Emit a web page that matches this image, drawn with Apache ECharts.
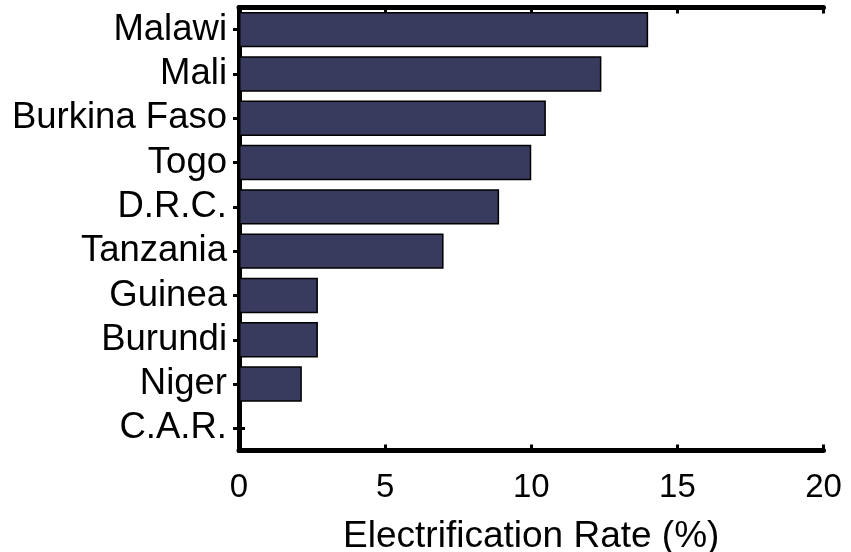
<html>
    <head>
        <meta charset="utf-8">
        <script src="https://cdn.jsdelivr.net/npm/echarts@6/dist/echarts.min.js" type="text/javascript" charset="utf-8"></script>
    </head>
    <body style="margin:0;background:#fff">
        <style>
            .chart {
                height: 552px;
                width: 851px;
            }
        </style>

        <div id="main" class="chart"></div>
        <script>
            // data
            var countries = ['Malawi', 'Mali', 'Burkina Faso', 'Togo', 'D.R.C.', 'Tanzania', 'Guinea', 'Burundi', 'Niger', 'C.A.R.'];
            var rates = [14.0, 12.4, 10.5, 10.0, 8.9, 7.0, 2.7, 2.7, 2.15, 0];
            var xTicks = [0, 5, 10, 15, 20];

            var font = "'Liberation Sans', Arial, sans-serif";
            var frameLine = { show: true, lineStyle: { color: '#000', width: 5 } };
            var innerTick = { show: true, inside: true, length: 6, lineStyle: { color: '#000', width: 3 } };

            var chart = echarts.init(document.getElementById('main'));

            chart.setOption({
                animation: false,
                grid: { left: 239, right: 27.5, top: 7.5, bottom: 101.5, outerBoundsMode: 'none', containLabel: false },
                xAxis: [
                    {
                        type: 'value',
                        min: xTicks[0],
                        max: xTicks[xTicks.length - 1],
                        interval: 5,
                        position: 'bottom',
                        name: 'Electrification Rate (%)',
                        nameLocation: 'middle',
                        nameGap: 68,
                        nameTextStyle: { color: '#000', fontSize: 37, fontFamily: font },
                        axisLine: frameLine,
                        axisTick: innerTick,
                        splitLine: { show: false },
                        axisLabel: { color: '#000', fontSize: 33, fontFamily: font, margin: 21 }
                    },
                    {
                        type: 'value',
                        min: xTicks[0],
                        max: xTicks[xTicks.length - 1],
                        interval: 5,
                        position: 'top',
                        axisLine: frameLine,
                        axisTick: innerTick,
                        splitLine: { show: false },
                        axisLabel: { show: false }
                    }
                ],
                yAxis: [
                    {
                        type: 'category',
                        data: countries,
                        inverse: true,
                        position: 'left',
                        axisLine: frameLine,
                        axisTick: Object.assign({ alignWithLabel: true }, innerTick),
                        axisLabel: { color: '#000', fontSize: 36.5, fontFamily: font, margin: 12, interval: 0 }
                    },
                    {
                        type: 'category',
                        data: countries,
                        inverse: true,
                        position: 'right',
                        axisLine: frameLine,
                        axisTick: Object.assign({ alignWithLabel: true }, innerTick),
                        axisLabel: { show: false }
                    }
                ],
                series: [
                    {
                        type: 'bar',
                        data: rates,
                        barCategoryGap: '20%',
                        itemStyle: { color: '#383a5e', borderColor: '#000', borderWidth: 1.5 }
                    }
                ]
            });
        </script>
    </body>
</html>
